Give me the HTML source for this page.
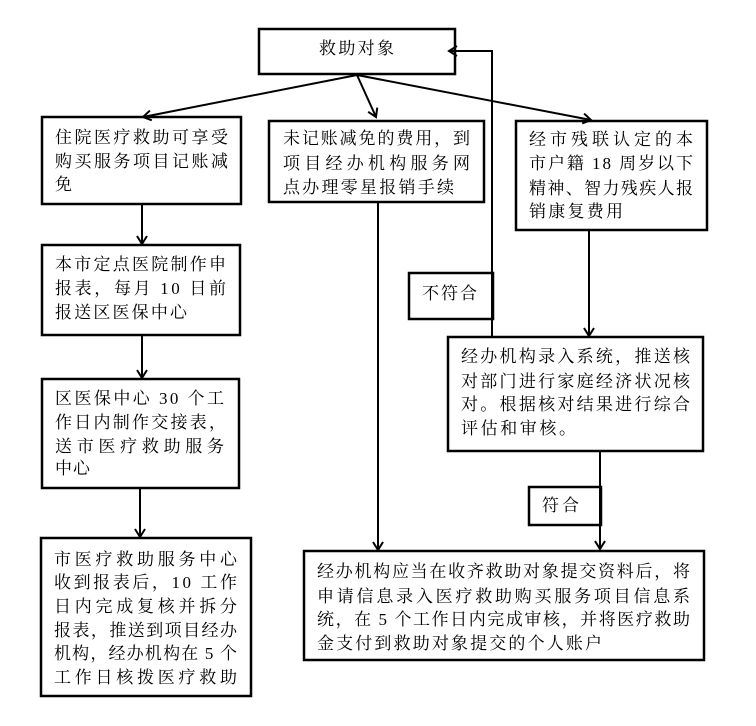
<!DOCTYPE html>
<html><head><meta charset="utf-8"><style>
html,body{margin:0;padding:0;background:#fff;}
svg{display:block;}
text{font-family:"Liberation Serif","Noto Serif CJK SC","Noto Sans CJK SC",serif;font-size:17px;fill:#000;}
</style></head><body>
<svg width="756" height="726" viewBox="0 0 756 726" xmlns="http://www.w3.org/2000/svg">
<defs>
<marker id="ah" markerUnits="userSpaceOnUse" markerWidth="14" markerHeight="14" refX="11" refY="7" orient="auto">
<path d="M3,2 L11,7 L3,12" fill="none" stroke="#000" stroke-width="2"/>
</marker>
</defs>
<g fill="none" stroke="#000" stroke-width="2.5">
<rect x="259" y="29" width="196" height="45"/>
<rect x="42" y="117" width="199" height="87"/>
<rect x="269" y="121" width="215" height="81"/>
<rect x="516" y="121" width="191" height="109"/>
<rect x="42" y="245" width="198" height="90"/>
<rect x="42" y="379" width="197" height="109"/>
<rect x="41" y="538" width="210" height="158"/>
<rect x="409" y="273" width="84" height="46"/>
<rect x="448" y="337" width="255" height="114"/>
<rect x="529" y="487" width="72" height="38"/>
<rect x="304" y="551" width="400" height="109"/>
</g>
<g fill="none" stroke="#000" stroke-width="2" marker-end="url(#ah)">
<line x1="357" y1="75" x2="143" y2="117"/>
<line x1="357" y1="75" x2="376" y2="117"/>
<line x1="357" y1="75" x2="591" y2="120"/>
<polyline points="492,337 492,51 449,51"/>
<line x1="142" y1="204" x2="142" y2="244"/>
<line x1="142" y1="335" x2="142" y2="378"/>
<line x1="140" y1="488" x2="140" y2="537"/>
<line x1="378" y1="202" x2="378" y2="550"/>
<line x1="589" y1="230" x2="589" y2="336"/>
<line x1="600" y1="451" x2="600" y2="549"/>
</g>
<text x="319" y="54" textLength="75" lengthAdjust="spacing">救助对象</text>

<text x="55" y="143" textLength="173" lengthAdjust="spacing">住院医疗救助可享受</text>
<text x="55" y="167" textLength="173" lengthAdjust="spacing">购买服务项目记账减</text>
<text x="55" y="190">免</text>

<text x="283" y="144" textLength="187" lengthAdjust="spacing">未记账减免的费用，到</text>
<text x="283" y="169" textLength="187" lengthAdjust="spacing">项目经办机构服务网</text>
<text x="283" y="193" textLength="171" lengthAdjust="spacing">点办理零星报销手续</text>

<text x="529" y="145" textLength="164" lengthAdjust="spacing">经市残联认定的本</text>
<text x="529" y="169" textLength="164" lengthAdjust="spacing">市户籍 18 周岁以下</text>
<text x="529" y="194" textLength="164" lengthAdjust="spacing">精神、智力残疾人报</text>
<text x="529" y="217" textLength="94" lengthAdjust="spacing">销康复费用</text>

<text x="55" y="270" textLength="171" lengthAdjust="spacing">本市定点医院制作申</text>
<text x="55" y="294" textLength="171" lengthAdjust="spacing">报表，每月 10 日前</text>
<text x="55" y="318" textLength="132" lengthAdjust="spacing">报送区医保中心</text>

<text x="55" y="404" textLength="169" lengthAdjust="spacing">区医保中心 30 个工</text>
<text x="55" y="428" textLength="171" lengthAdjust="spacing">作日内制作交接表，</text>
<text x="55" y="452" textLength="169" lengthAdjust="spacing">送市医疗救助服务</text>
<text x="55" y="474" textLength="35" lengthAdjust="spacing">中心</text>

<text x="54" y="565" textLength="183" lengthAdjust="spacing">市医疗救助服务中心</text>
<text x="54" y="588" textLength="183" lengthAdjust="spacing">收到报表后，10 工作</text>
<text x="54" y="612" textLength="183" lengthAdjust="spacing">日内完成复核并拆分</text>
<text x="54" y="636" textLength="183" lengthAdjust="spacing">报表，推送到项目经办</text>
<text x="54" y="659" textLength="183" lengthAdjust="spacing">机构，经办机构在 5 个</text>
<text x="54" y="683" textLength="183" lengthAdjust="spacing">工作日核拨医疗救助</text>

<text x="422" y="299" textLength="55" lengthAdjust="spacing">不符合</text>

<text x="461" y="362" textLength="229" lengthAdjust="spacing">经办机构录入系统，推送核</text>
<text x="461" y="387" textLength="229" lengthAdjust="spacing">对部门进行家庭经济状况核</text>
<text x="461" y="410" textLength="229" lengthAdjust="spacing">对。根据核对结果进行综合</text>
<text x="461" y="434" textLength="115" lengthAdjust="spacing">评估和审核。</text>

<text x="542" y="511" textLength="37" lengthAdjust="spacing">符合</text>

<text x="317" y="577" textLength="373" lengthAdjust="spacing">经办机构应当在收齐救助对象提交资料后，将</text>
<text x="317" y="602" textLength="373" lengthAdjust="spacing">申请信息录入医疗救助购买服务项目信息系</text>
<text x="317" y="625" textLength="373" lengthAdjust="spacing">统，在 5 个工作日内完成审核，并将医疗救助</text>
<text x="317" y="649" textLength="285" lengthAdjust="spacing">金支付到救助对象提交的个人账户</text>
</svg>
</body></html>
